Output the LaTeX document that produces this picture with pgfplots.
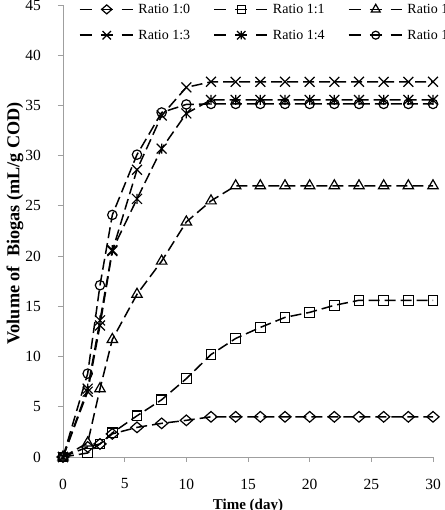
\documentclass[border=0pt]{standalone}
\usepackage{fontspec}
\setmainfont{Liberation Serif}
\usepackage{pgfplots}
\pgfplotsset{compat=1.18}
\usepackage{pgfplotstable}

% cross with a vertical bar (spreadsheet-style star marker)
\pgfdeclareplotmark{xstar}{%
  \pgfpathmoveto{\pgfqpoint{-.70710678\pgfplotmarksize}{-.70710678\pgfplotmarksize}}%
  \pgfpathlineto{\pgfqpoint{.70710678\pgfplotmarksize}{.70710678\pgfplotmarksize}}%
  \pgfpathmoveto{\pgfqpoint{-.70710678\pgfplotmarksize}{.70710678\pgfplotmarksize}}%
  \pgfpathlineto{\pgfqpoint{.70710678\pgfplotmarksize}{-.70710678\pgfplotmarksize}}%
  \pgfpathmoveto{\pgfqpoint{0pt}{-.70710678\pgfplotmarksize}}%
  \pgfpathlineto{\pgfqpoint{0pt}{.70710678\pgfplotmarksize}}%
  \pgfusepathqstroke}
% slightly wide diamond
\pgfdeclareplotmark{wdiamond}{%
  \pgfpathmoveto{\pgfqpoint{0pt}{\pgfplotmarksize}}%
  \pgfpathlineto{\pgfqpoint{1.15\pgfplotmarksize}{0pt}}%
  \pgfpathlineto{\pgfqpoint{0pt}{-\pgfplotmarksize}}%
  \pgfpathlineto{\pgfqpoint{-1.15\pgfplotmarksize}{0pt}}%
  \pgfpathclose
  \pgfusepathqstroke}

% cumulative biogas volume (mL/g COD) against time (day)
\pgfplotstableread{
t   r10   r11   r12   r13   r14   r15
0   0     0     0     0     0     0
2   1.0   0.4   1.4   6.5   6.8   8.3
3   1.3   1.3   6.8   13.1  13.6  17.1
4   2.3   2.4   11.7  20.5  20.6  24.1
6   2.95  4.1   16.2  28.6  25.7  30.1
8   3.35  5.7   19.5  34.0  30.7  34.3
10  3.65  7.8   23.4  36.8  34.2  35.1
12  4.0   10.2  25.5  37.35 35.55 35.15
14  4.0   11.8  27.0  37.35 35.55 35.15
16  4.0   12.9  27.0  37.35 35.55 35.15
18  4.0   13.9  27.0  37.35 35.55 35.15
20  4.0   14.4  27.0  37.35 35.55 35.15
22  4.0   15.1  27.0  37.35 35.55 35.15
24  4.0   15.6  27.0  37.35 35.55 35.15
26  4.0   15.6  27.0  37.35 35.55 35.15
28  4.0   15.6  27.0  37.35 35.55 35.15
30  4.0   15.6  27.0  37.35 35.55 35.15
}\biogas

\newcommand{\entry}[1]{\makebox[70pt][l]{#1}}

\begin{document}
\begin{tikzpicture}
\useasboundingbox (0,0) rectangle (444pt,510pt);
\clip (0,0) rectangle (444pt,510pt);
\begin{axis}[
  at={(63pt,53pt)}, anchor=south west,
  scale only axis, width=370pt, height=452pt,
  xmin=0, xmax=30, ymin=0, ymax=45,
  axis x line*=bottom, axis y line*=left,
  axis line style={draw=gray!75, line width=0.9pt, -},
  xtick={0,5,...,30}, ytick={0,5,...,45},
  tick align=outside, major tick length=5pt,
  tick style={draw=gray!75, line width=0.9pt},
  /pgf/number format/assume math mode=true,
  ticklabel style={font=\fontsize{15.5}{15.5}\selectfont},
  xticklabel style={anchor=center, inner sep=0pt, yshift=-22pt},
  yticklabel style={anchor=east, inner sep=0pt, xshift=-17pt},
  xlabel={Time (day)},
  xlabel style={font=\fontsize{15}{15}\selectfont\bfseries, at={(axis description cs:0.5,0)}, anchor=north, inner sep=0pt, yshift=-42pt},
  ylabel={Volume of~ Biogas (mL/g COD)},
  ylabel style={font=\fontsize{18.2}{18.2}\selectfont\bfseries, at={(axis description cs:-0.1297,0.5166)}, anchor=center, inner sep=0pt},
  every axis plot/.append style={black, line width=1.5pt, dash pattern=on 11pt off 5pt,
     mark options={solid, line width=1.2pt}},
  legend columns=3,
  legend style={draw=none, fill=none, inner sep=0pt, outer sep=0pt,
     at={(axis description cs:0.0432,1.0022)}, anchor=north west,
     font=\fontsize{14}{14}\selectfont, column sep=5pt, row sep=15pt,
     nodes={inner sep=0pt}},
  legend cell align=left,
  legend image code/.code={%
     \draw[mark repeat=2, mark phase=2, #1, dash pattern=on 12pt off 9pt,
           every mark/.append style={scale=0.85}]
       plot coordinates {(0pt,0pt) (27pt,0pt) (53pt,0pt)};},
]
\addplot[mark=wdiamond, mark size=5.3pt] table[x=t, y=r10] {\biogas};
\addlegendentry{\entry{Ratio 1:0}}
\addplot[mark=square, mark size=4.8pt] table[x=t, y=r11] {\biogas};
\addlegendentry{\entry{Ratio 1:1}}
\addplot[mark=triangle, mark size=6pt] table[x=t, y=r12] {\biogas};
\addlegendentry{\entry{Ratio 1:2}}
\addplot[mark=x, mark size=7pt] table[x=t, y=r13] {\biogas};
\addlegendentry{\entry{Ratio 1:3}}
\addplot[mark=xstar, mark size=7pt] table[x=t, y=r14] {\biogas};
\addlegendentry{\entry{Ratio 1:4}}
\addplot[mark=o, mark size=4.7pt] table[x=t, y=r15] {\biogas};
\addlegendentry{\entry{Ratio 1:5}}
\end{axis}
\end{tikzpicture}
\end{document}
